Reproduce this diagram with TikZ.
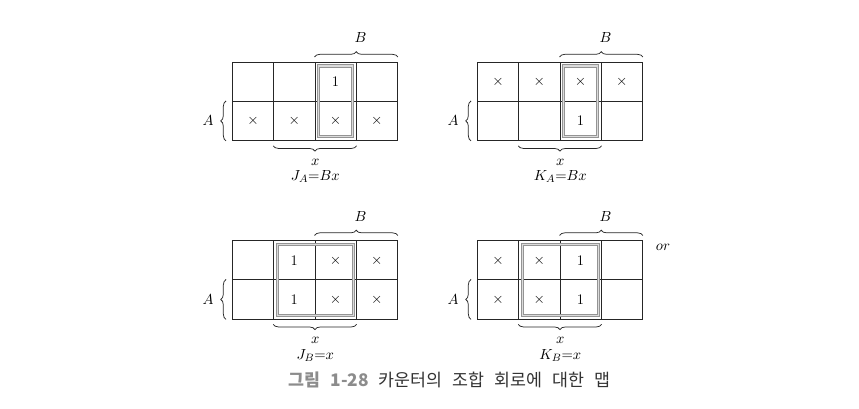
\documentclass[tikz,border=0pt]{standalone}
\usepackage{fontspec}
\newfontfamily\krfont{Noto Sans CJK KR}
\usetikzlibrary{decorations.pathreplacing}
\newcommand\kx{$\times$}
\newcommand\kgap{\hspace{7.5pt}}
\begin{document}
\begin{tikzpicture}[x=0.75pt,y=-0.75pt,
  cell/.style={draw=black!85,line width=0.6pt,minimum width=30.94pt,minimum height=29.25pt,inner sep=0pt,anchor=north west,font=\fontsize{11}{13}\selectfont},
  hl/.style={draw=black!42,double=black!14,line width=0.7pt,double distance=0.9pt},
  brc/.style={decorate,decoration={brace,amplitude=4pt},line width=0.55pt,draw=black!85},
  lbl/.style={font=\fontsize{11}{13}\selectfont,inner sep=0pt}]
\useasboundingbox (0,0) rectangle (859,409);

\foreach \m/\ox/\oy/\ta/\tb/\tc/\td/\te/\tf/\tg/\th in {
  a/232/62/{}/{}/1/{}/\kx/\kx/\kx/\kx,
  b/477/62/\kx/\kx/\kx/\kx/{}/{}/1/{},
  c/232/240.5/{}/1/\kx/\kx/{}/1/\kx/\kx,
  d/477/240.5/\kx/\kx/1/{}/\kx/\kx/1/{}}{
  \node[cell] (\m11) at (\ox,\oy) {\ta};
  \node[cell] (\m12) at (\ox+41.25,\oy) {\tb};
  \node[cell] (\m13) at (\ox+82.5,\oy) {\tc};
  \node[cell] (\m14) at (\ox+123.75,\oy) {\td};
  \node[cell] (\m21) at (\ox,\oy+39) {\te};
  \node[cell] (\m22) at (\ox+41.25,\oy+39) {\tf};
  \node[cell] (\m23) at (\ox+82.5,\oy+39) {\tg};
  \node[cell] (\m24) at (\ox+123.75,\oy+39) {\th};
}

\draw[hl] ([shift={(4,4)}]a13.north west) rectangle ([shift={(-4,-4)}]a23.south east);
\draw[hl] ([shift={(4,4)}]b13.north west) rectangle ([shift={(-4,-4)}]b23.south east);
\draw[hl] ([shift={(4,4)}]c12.north west) rectangle ([shift={(-3,-3.5)}]c23.south east);
\draw[hl] ([shift={(4,4)}]d12.north west) rectangle ([shift={(-3,-3.5)}]d23.south east);

\foreach \m/\s in {a/{J_A{=}Bx}, b/{K_A{=}Bx}, c/{J_B{=}x}, d/{K_B{=}x}}{
  \draw[brc] ([shift={(0,-5)}]\m13.north west) -- ([shift={(0,-5)}]\m14.north east);
  \node[lbl] (\m lB) at ([shift={(4,-24)}]\m13.north east) {$B$};
  \draw[brc] ([shift={(0,5)}]\m23.south east) -- ([shift={(0,5)}]\m22.south west);
  \node[lbl] (\m lx) at ([shift={(0,21.5)}]\m22.south east) {$x$};
  \node[lbl] (\m lf) at ([shift={(0,36)}]\m22.south east) {$\s$};
  \draw[brc] ([shift={(-6,0)}]\m21.south west) -- ([shift={(-6,0)}]\m21.north west);
  \node[lbl] (\m lA) at ([shift={(-24,0)}]\m21.west) {$A$};
}

\node[lbl] (or) at (663,247) {$or$};

\node[font=\krfont\fontsize{13}{15}\selectfont,text=black!80,inner sep=0pt] (cap) at (449.5,380)
  {\textcolor{black!45}{\bfseries 그림\kgap 1-28}\kgap 카운터의\kgap 조합\kgap 회로에\kgap 대한\kgap 맵};
\end{tikzpicture}
\end{document}
